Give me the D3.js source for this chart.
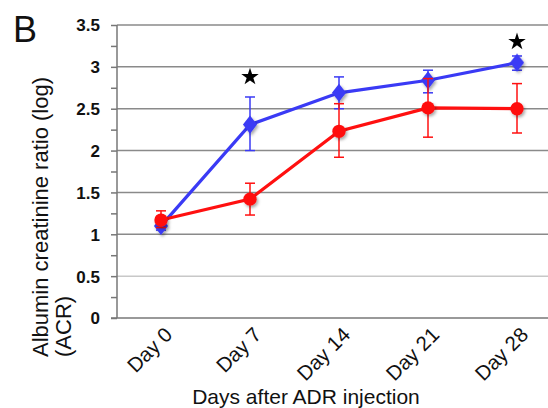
<!DOCTYPE html>
<html><head><meta charset="utf-8">
<script src="https://cdn.jsdelivr.net/npm/d3@7"></script>
<style>body{margin:0;background:#fff}svg{display:block}</style>
</head><body>
<svg id="c" width="548" height="408"></svg>
<script>
const categories = ["Day 0","Day 7","Day 14","Day 21","Day 28"];
const blueValues = [1.10, 2.31, 2.69, 2.84, 3.05];
const blueLow    = [1.05, 2.00, 2.50, 2.69, 2.96];
const blueHigh   = [1.15, 2.64, 2.88, 2.96, 3.13];
const redValues  = [1.17, 1.42, 2.23, 2.51, 2.50];
const redLow     = [1.08, 1.23, 1.92, 2.16, 2.21];
const redHigh    = [1.28, 1.61, 2.56, 2.86, 2.80];
const yTicks = [0, 0.5, 1, 1.5, 2, 2.5, 3, 3.5];
const yTickLabels = ["0","0.5","1","1.5","2","2.5","3","3.5"];
const starDays = ["Day 7","Day 28"];
const starValues = [2.88, 3.30];

const FONT = "Arial, 'Liberation Sans', sans-serif";
const svg = d3.select("#c");
const x = d3.scalePoint().domain(categories).range([161, 517]);
const y = d3.scaleLinear().domain([0, 3.5]).range([318, 25]);
const axisX = 117;

const defs = svg.append("defs");
const f = defs.append("filter").attr("id","sh").attr("x","-50%").attr("y","-50%").attr("width","200%").attr("height","200%");
f.append("feDropShadow").attr("dx",1.5).attr("dy",2).attr("stdDeviation",1.5).attr("flood-color","#000").attr("flood-opacity",0.35);

// gridlines
svg.append("g").selectAll("line").data(yTicks.filter(d=>d>0)).join("line")
  .attr("x1", axisX).attr("x2", 548)
  .attr("y1", d=>y(d)).attr("y2", d=>y(d))
  .attr("stroke", d=> d===0.5 ? "#c8c8c8" : "#8a8a8a").attr("stroke-width",1.5);

// y axis
const yAxis = d3.axisLeft(y).tickValues(d3.range(0, 3.51, 0.25)).tickSize(6).tickFormat(d=>{
  const i = yTicks.indexOf(d); return i>=0 ? yTickLabels[i] : "";
});
const gy = svg.append("g").attr("transform",`translate(${axisX},0)`).call(yAxis);
gy.select(".domain").attr("stroke","#777").attr("stroke-width",1.5).attr("d",`M0,${y(3.5)}V${y(0)}`);
gy.selectAll(".tick line").attr("stroke","#777").attr("stroke-width",1.5);
gy.selectAll(".tick text").attr("font-family",FONT).attr("font-size",17).attr("font-weight","bold").attr("fill","#111").attr("x",-17).attr("dy","0.35em");

// baseline
svg.append("line").attr("x1",axisX-6).attr("x2",548).attr("y1",y(0)).attr("y2",y(0)).attr("stroke","#777").attr("stroke-width",1.5);

// x axis labels
const gx = svg.append("g").attr("transform",`translate(0,${y(0)})`).call(d3.axisBottom(x).tickSize(0));
gx.select(".domain").remove();
gx.selectAll(".tick text").attr("font-family",FONT).attr("font-size",20.5).attr("fill","#111")
  .attr("text-anchor","end").attr("dy",0).attr("y",0)
  .attr("transform","translate(12,18) rotate(-45)");

// axis titles
svg.append("text").attr("x",306).attr("y",404).attr("text-anchor","middle")
  .attr("font-family",FONT).attr("font-size",21).attr("fill","#111").text("Days after ADR injection");
const yt = svg.append("text").attr("transform","translate(48,357) rotate(-90)")
  .attr("font-family",FONT).attr("font-size",22).attr("fill","#111");
yt.append("tspan").attr("x",0).attr("y",0).text("Albumin creatinine ratio (log)");
yt.append("tspan").attr("x",0).attr("y",23).text("(ACR)");

svg.append("text").attr("x",13).attr("y",42).attr("font-family",FONT).attr("font-size",36).attr("fill","#111").text("B");

function series(vals, lo, hi, color, shape){
  const g = svg.append("g");
  const eb = g.append("g");
  categories.forEach((c,i)=>{
    const cx = x(c);
    eb.append("line").attr("x1",cx).attr("x2",cx).attr("y1",y(lo[i])).attr("y2",y(hi[i])).attr("stroke",color).attr("stroke-width",1.5);
    [lo[i],hi[i]].forEach(v=>eb.append("line").attr("x1",cx-5).attr("x2",cx+5).attr("y1",y(v)).attr("y2",y(v)).attr("stroke",color).attr("stroke-width",1.5));
  });
  g.append("path").datum(vals).attr("fill","none").attr("stroke",color).attr("stroke-width",3.2)
    .attr("d", d3.line().x((d,i)=>x(categories[i])).y(d=>y(d)));
  g.append("g").attr("filter","url(#sh)").selectAll("path").data(vals).join("path")
    .attr("d", d3.symbol().type(shape).size(shape===d3.symbolCircle?140:130)())
    .attr("fill",color)
    .attr("transform",(d,i)=>`translate(${x(categories[i])},${y(d)})` + (shape===d3.symbolDiamond? " scale(1.15,0.85)":""));
}
series(blueValues, blueLow, blueHigh, "#3a3af5", d3.symbolDiamond);
series(redValues, redLow, redHigh, "#ff1010", d3.symbolCircle);

// stars
svg.append("g").selectAll("path").data(starDays).join("path")
  .attr("transform",(d,i)=>`translate(${x(d)},${y(starValues[i])})`)
  .attr("d", d3.symbol().type(d3.symbolStar).size(95)())
  .attr("fill","#000");
</script>
</body></html>
